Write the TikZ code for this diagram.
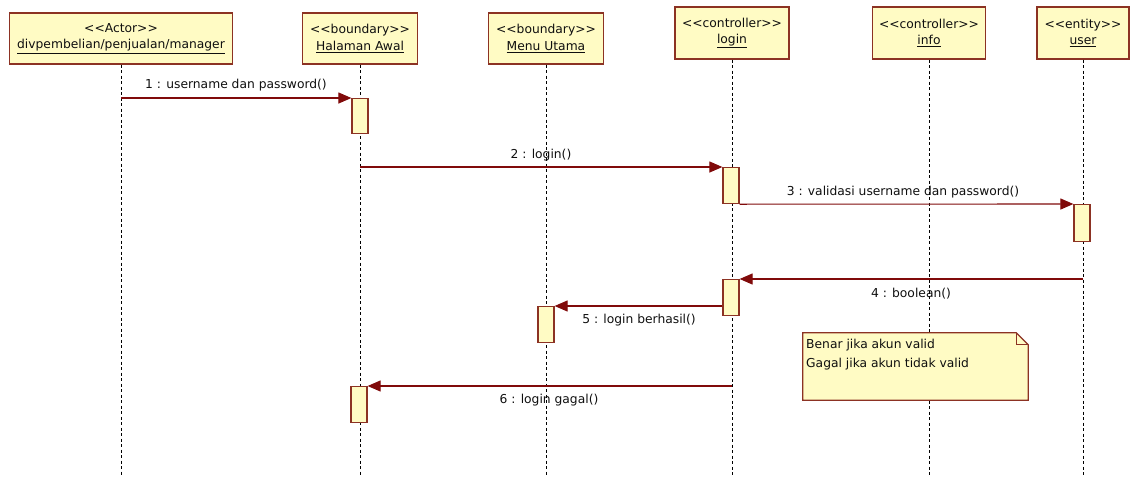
\documentclass[tikz,border=0pt]{standalone}
\usepackage{fontspec}
\setmainfont{DejaVu Sans}[Ligatures=TeXOff]
\usetikzlibrary{arrows.meta}
\definecolor{boxfill}{RGB}{255,251,196}
\definecolor{boxline}{RGB}{140,50,35}
\definecolor{msgline}{RGB}{128,10,10}
\definecolor{txt}{RGB}{15,15,15}
\tikzset{
  head/.style={draw=boxline, fill=boxfill, line width=1.3pt, align=center, inner sep=0pt, text=txt, font=\fontsize{12.3}{16.5}\selectfont},
  life/.style={draw=black, line width=1pt, dash pattern=on 3pt off 2.5pt},
  actbox/.style={draw=boxline, fill=boxfill, line width=1.2pt, minimum width=16pt, inner sep=0pt, anchor=north},
  msg/.style={draw=msgline, line width=1.1pt, -{Triangle[length=13pt,width=11pt]}},
  lbl/.style={text=txt, font=\fontsize{12.3}{14}\selectfont, inner sep=1pt},
}
\begin{document}
\begin{tikzpicture}[x=1pt,y=-1pt]
\useasboundingbox (0,0) rectangle (1130,477);
% heads
\node[head, minimum width=223pt, minimum height=51pt] (A) at (121,38.5) {<<Actor>>\\\underline{divpembelian/penjualan/manager}};
\node[head, minimum width=115pt, minimum height=51pt] (B) at (360,38.5) {<<boundary>>\\\underline{Halaman Awal}};
\node[head, minimum width=115pt, minimum height=51pt] (C) at (546,38.5) {<<boundary>>\\\underline{Menu Utama}};
\node[head, minimum width=114pt, minimum height=52pt] (D) at (732,33) {<<controller>>\\\underline{login}};
\node[head, minimum width=113pt, minimum height=52pt] (E) at (929,33) {<<controller>>\\\underline{info}};
\node[head, minimum width=92pt, minimum height=52pt] (F) at (1083,33) {<<entity>>\\\underline{user}};
% lifeline ends
\coordinate (Aend) at (121,477);
\coordinate (Bend) at (360,477);
\coordinate (Cend) at (546,477);
\coordinate (Dend) at (732,477);
\coordinate (Eend) at (929,477);
\coordinate (Fend) at (1083,477);
\foreach \n in {A,B,C,D,E,F} {\draw[life] (\n.south) -- (\n end);}
% note
\node[draw=none, minimum width=225pt, minimum height=67pt, inner sep=0pt] (note) at (915.5,366.5) {};
\draw[draw=boxline, fill=boxfill, line width=1.2pt] (note.north west) -- ([xshift=-12pt]note.north east) -- ([yshift=-12pt]note.north east) -- (note.south east) -- (note.south west) -- cycle;
\draw[draw=boxline, line width=1pt] ([xshift=-12pt]note.north east) -- ([xshift=-12pt,yshift=-12pt]note.north east) -- ([yshift=-12pt]note.north east);
\node[lbl, anchor=north west, align=left, font=\fontsize{12.3}{19}\selectfont] (notetext) at (805,338) {Benar jika akun valid\\Gagal jika akun tidak valid};
% activations
\node[actbox, minimum height=35pt] (a1) at (360,98) {};
\node[actbox, minimum height=36pt] (a2) at (731,167) {};
\node[actbox, minimum height=37pt] (a3) at (1082,204) {};
\node[actbox, minimum height=36pt] (a4) at (731,279) {};
\node[actbox, minimum height=36pt] (a5) at (546,306) {};
\node[actbox, minimum height=36pt] (a6) at (359,386) {};
% messages
\coordinate (m1s) at (121,98);
\draw[msg] (m1s) -- (a1.north west);
\coordinate (m2s) at (360,167);
\draw[msg] (m2s) -- (a2.north west);
\draw[msg] (a2.south east) -- (a3.north west);
\coordinate (m4s) at (1083,279);
\draw[msg] (m4s) -- (a4.north east);
\draw[msg] (a4.north west |- a5.north) -- (a5.north east);
\coordinate (m6s) at (732,386);
\draw[msg] (m6s) -- (a6.north east);
% labels
\node[lbl] (l1) at (236,85) {1 : username dan password()};
\node[lbl] (l2) at (541,155) {2 : login()};
\node[lbl] (l3) at (903,192) {3 : validasi username dan password()};
\node[lbl] (l4) at (911,294) {4 : boolean()};
\node[lbl] (l5) at (639,320) {5 : login berhasil()};
\node[lbl] (l6) at (549,400) {6 : login gagal()};
\end{tikzpicture}
\end{document}
